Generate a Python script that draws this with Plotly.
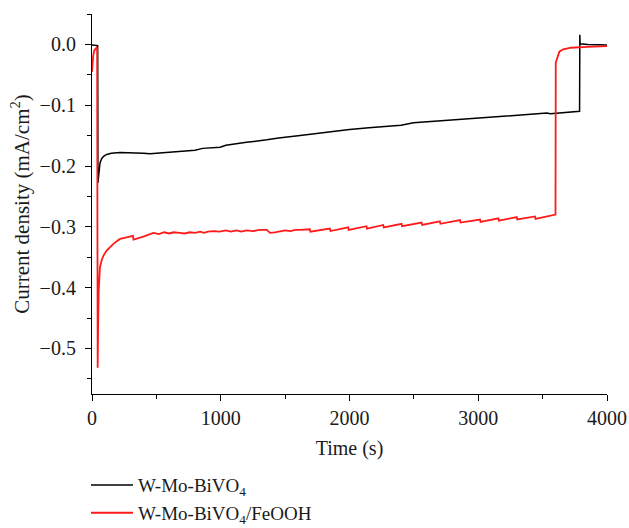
import plotly.graph_objects as go

# Chronoamperometry: time (s) vs current density (mA/cm^2)
t_bivo4 = [0, 40, 44, 46, 50, 55, 62, 75, 90, 114, 150, 218, 300, 399, 451, 520, 600,
           700, 762, 800, 860, 995, 1040, 1098, 1200, 1357, 1450, 1617, 1771, 1900,
           2000, 2150, 2300, 2400, 2497, 2700, 2850, 2990, 3100, 3250, 3400, 3533,
           3560, 3700, 3787, 3789, 3791, 3850, 4000]
j_bivo4 = [-0.001, -0.001, -0.002, -0.228, -0.215, -0.203, -0.195, -0.188, -0.184,
           -0.181, -0.179, -0.178, -0.178, -0.179, -0.180, -0.179, -0.178, -0.176,
           -0.175, -0.174, -0.171, -0.169, -0.166, -0.164, -0.161, -0.157, -0.154,
           -0.150, -0.146, -0.142, -0.140, -0.137, -0.134, -0.133, -0.129, -0.126,
           -0.124, -0.121, -0.120, -0.117, -0.115, -0.113, -0.114, -0.112, -0.110,
           0.016, 0.001, 0.000, -0.001]

t_feooh = [0, 5, 10, 18, 26, 36, 40, 42, 44, 47, 52, 57, 62, 75, 90, 114, 140, 166,
           190, 218, 260, 296, 318, 322, 340, 370, 399, 440, 477, 520, 560, 600, 633,
           680, 720, 760, 800, 840, 870, 900, 944, 990, 1040, 1080, 1120, 1160, 1200,
           1250, 1300, 1357, 1383, 1420, 1460, 1500, 1540, 1580, 1616,
           1692, 1696, 1848, 1852, 1990, 1994, 2132, 2136, 2262, 2266, 2404, 2408,
           2560, 2564, 2702, 2706, 2858, 2862, 3014, 3018, 3156, 3160, 3299, 3303,
           3441, 3445, 3598, 3600, 3602, 3610, 3630, 3660, 3720, 3850, 4000]
j_feooh = [-0.045, -0.030, -0.018, -0.010, -0.007, -0.005, -0.006, -0.300, -0.532,
           -0.470, -0.405, -0.380, -0.366, -0.355, -0.347, -0.339, -0.333, -0.328,
           -0.324, -0.320, -0.318, -0.316, -0.315, -0.321, -0.320, -0.318, -0.316,
           -0.313, -0.310, -0.312, -0.309, -0.311, -0.309, -0.310, -0.311, -0.309,
           -0.310, -0.308, -0.310, -0.308, -0.307, -0.308, -0.306, -0.308, -0.306,
           -0.308, -0.306, -0.307, -0.305, -0.305, -0.310, -0.309, -0.308, -0.306,
           -0.307, -0.305, -0.305,
           -0.304, -0.308, -0.303, -0.307, -0.301, -0.305, -0.299, -0.303, -0.297,
           -0.301, -0.295, -0.299, -0.293, -0.297, -0.291, -0.295, -0.289, -0.293,
           -0.288, -0.292, -0.286, -0.290, -0.284, -0.288, -0.283, -0.287, -0.281,
           -0.280, -0.030, -0.025, -0.012, -0.008, -0.0055, -0.004, -0.003]

series_names = ["W-Mo-BiVO<sub>4</sub>", "W-Mo-BiVO<sub>4</sub>/FeOOH"]

FONT = "Liberation Serif, Times New Roman, serif"
FS = 20

fig = go.Figure()
fig.add_trace(go.Scatter(x=t_bivo4, y=j_bivo4, mode="lines", name=series_names[0],
                         line=dict(color="#000000", width=1.5)))
fig.add_trace(go.Scatter(x=t_feooh, y=j_feooh, mode="lines", name=series_names[1],
                         line=dict(color="#ff1a1a", width=1.8)))

axis_common = dict(
    showline=True, linecolor="#000000", linewidth=1.2, mirror=False,
    showgrid=False, zeroline=False, automargin=False,
    ticks="outside", ticklen=6, tickwidth=1.2, tickcolor="#000000",
    tickfont=dict(family=FONT, size=FS, color="#1a1a1a"),
)

fig.update_layout(
    width=629, height=528,
    margin=dict(l=92, r=22, t=14, b=134, autoexpand=False),
    paper_bgcolor="white", plot_bgcolor="white",
    font=dict(family=FONT, size=FS, color="#1a1a1a"),
    xaxis=dict(
        range=[0, 4000], tickmode="linear", tick0=0, dtick=1000,
        minor=dict(ticks="outside", ticklen=4, tickwidth=1.2, tickcolor="#000000", dtick=500),
        title=dict(text="Time (s)", font=dict(family=FONT, size=FS), standoff=12),
        **axis_common,
    ),
    yaxis=dict(
        range=[-0.575, 0.05], tickmode="linear", tick0=0, dtick=0.1, tickformat=".1f",
        minor=dict(ticks="outside", ticklen=4, tickwidth=1.2, tickcolor="#000000", dtick=0.05),
        ticklabelstandoff=5,
        title=dict(text="Current density (mA/cm<sup>2</sup>)", font=dict(family=FONT, size=21),
                   standoff=4),
        **axis_common,
    ),
    showlegend=True,
    legend=dict(
        x=-0.0117, xanchor="left", y=-0.19, yanchor="top",
        orientation="v", bgcolor="rgba(0,0,0,0)",
        font=dict(family=FONT, size=19, color="#1a1a1a"),
        tracegroupgap=0, itemwidth=42,
    ),
)

fig.write_html("out.html")
